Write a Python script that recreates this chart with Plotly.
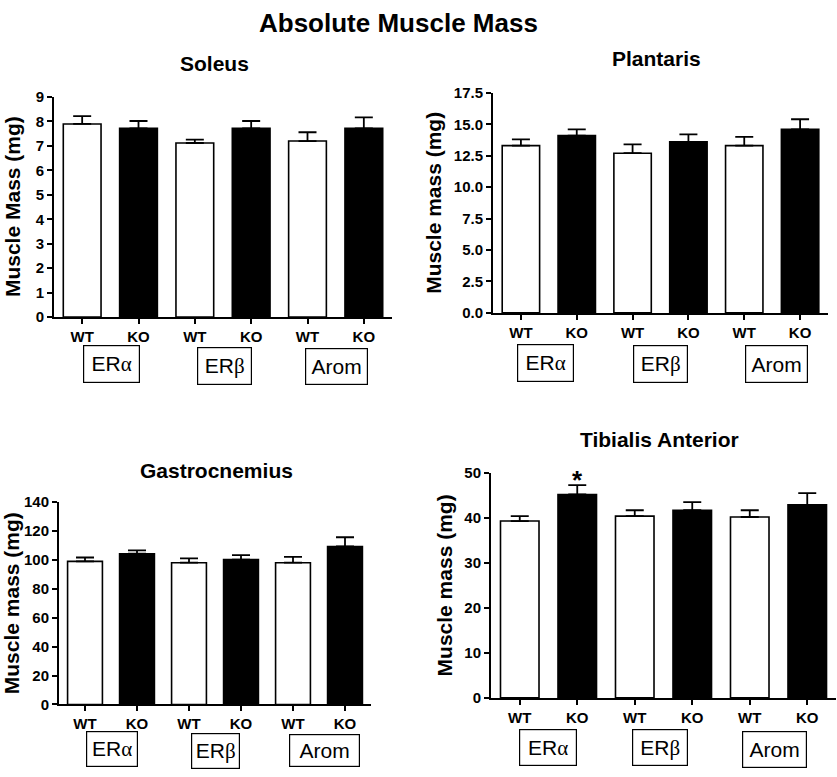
import plotly.graph_objects as go

W, H = 837, 777

categories = ["WT", "KO", "WT", "KO", "WT", "KO"]
groups = ["ER<span style='font-family:Liberation Serif'>α</span>",
          "ER<span style='font-family:Liberation Serif'>β</span>",
          "Arom"]
bar_colors = ["white", "black", "white", "black", "white", "black"]

soleus_vals = [7.9, 7.72, 7.12, 7.72, 7.2, 7.72]
soleus_err = [0.32, 0.3, 0.14, 0.3, 0.36, 0.45]
plantaris_vals = [13.3, 14.1, 12.7, 13.6, 13.3, 14.6]
plantaris_err = [0.5, 0.5, 0.7, 0.6, 0.7, 0.8]
gastro_vals = [98.9, 104.2, 98.0, 100.2, 98.0, 109.2]
gastro_err = [2.7, 2.3, 3.0, 3.0, 4.0, 6.4]
tibialis_vals = [39.3, 45.2, 40.4, 41.7, 40.2, 42.9]
tibialis_err = [1.1, 2.1, 1.3, 1.8, 1.5, 2.6]

FONT = "Liberation Sans, Arial, Helvetica, sans-serif"

panels = [
    dict(name="Soleus", vals=soleus_vals, err=soleus_err, px=(54, 392, 315, 90),
         yrange=[0, 9], dtick=1, fmt="d", ytitle="Muscle Mass (mg)", ytx=12,
         title_xy=(214, 56), box_y=(363, 365, 365.5), box_wh=((57, 38), (55, 38), (63, 37)),
         box_x=(111.5, 224.5, 336.5)),
    dict(name="Plantaris", vals=plantaris_vals, err=plantaris_err, px=(493, 828, 310.7, 85.7),
         yrange=[0, 17.5], dtick=2.5, fmt=".1f", ytitle="Muscle mass (mg)", ytx=434,
         title_xy=(656, 51), box_y=(362, 363, 363), box_wh=((57, 38), (55, 38), (63, 38)),
         box_x=(545.5, 660.5, 776.5)),
    dict(name="Gastrocnemius", vals=gastro_vals, err=gastro_err, px=(59, 371, 711, 504),
         yrange=[0, 140], dtick=20, fmt="d", ytitle="Muscle mass (mg)", ytx=11,
         title_xy=(216, 472), box_y=(757, 759, 758.5), box_wh=((52, 36), (49, 36), (71, 33)),
         box_x=(112, 215.5, 324.5)),
    dict(name="Tibialis Anterior", vals=tibialis_vals, err=tibialis_err, px=(491, 836, 704.3, 474.3),
         yrange=[0, 50], dtick=10, fmt="d", ytitle="Muscle mass (mg)", ytx=444,
         title_xy=(659, 440), box_y=(755.5, 755.5, 757), box_wh=((58, 37), (56, 37), (65, 37)),
         box_x=(548, 660, 774.5)),
]

fig = go.Figure()
annotations = []

def px2x(p):
    return p / W

def px2y(p):
    return 1 - p / H

for i, p in enumerate(panels, start=1):
    xa = "x" if i == 1 else f"x{i}"
    ya = "y" if i == 1 else f"y{i}"
    fig.add_trace(go.Bar(
        x=list(range(len(categories))), y=p["vals"],
        xaxis=xa, yaxis=ya, width=0.67,
        marker=dict(color=bar_colors, line=dict(color="black", width=1.6)),
        error_y=dict(type="data", symmetric=False, array=p["err"],
                     arrayminus=[0] * len(p["err"]), color="black",
                     thickness=1.8, width=9),
        showlegend=False, hoverinfo="skip",
    ))
    x0, x1, yb, yt = p["px"]
    axis_common = dict(showline=True, linewidth=2, linecolor="black", ticks="outside",
                       ticklen=5, tickwidth=2, tickcolor="black", showgrid=False,
                       zeroline=False, tickfont=dict(family=FONT, size=15, color="black", weight="bold"))
    fig.layout[f"xaxis{'' if i == 1 else i}"] = dict(
        domain=[px2x(x0), px2x(x1)], anchor=ya, range=[-0.5, 5.5],
        tickmode="array", tickvals=list(range(len(categories))), ticktext=categories,
        fixedrange=True, **axis_common)
    fig.layout[f"yaxis{'' if i == 1 else i}"] = dict(
        domain=[px2y(yb), px2y(yt)], anchor=xa, range=p["yrange"], dtick=p["dtick"],
        tick0=0, tickformat=p["fmt"], fixedrange=True, **axis_common)

    annotations.append(dict(text=p["name"], x=px2x(p["title_xy"][0]), y=px2y(p["title_xy"][1]),
                            xref="paper", yref="paper", showarrow=False,
                            xanchor="center", yanchor="middle",
                            font=dict(family=FONT, size=21, color="black", weight="bold")))
    annotations.append(dict(text=p["ytitle"], x=px2x(p["ytx"]), y=px2y((yb + yt) / 2),
                            xref="paper", yref="paper", showarrow=False, textangle=-90,
                            xanchor="center", yanchor="middle",
                            font=dict(family=FONT, size=21, color="black", weight="bold")))
    for g, gname in enumerate(groups):
        bw, bh = p["box_wh"][g]
        annotations.append(dict(text=gname, x=px2x(p["box_x"][g]), y=px2y(p["box_y"][g]),
                                xref="paper", yref="paper", showarrow=False,
                                xanchor="center", yanchor="middle",
                                width=bw - 2, height=bh - 2, borderpad=0,
                                bordercolor="black", borderwidth=1.2, bgcolor="white",
                                font=dict(family=FONT, size=21, color="black")))

annotations.append(dict(text="*", x=1, y=tibialis_vals[1] + tibialis_err[1], xref="x4", yref="y4",
                        showarrow=False, xanchor="center", yanchor="bottom", yshift=-12,
                        font=dict(family=FONT, size=26, color="black", weight="bold")))

annotations.append(dict(text="Absolute Muscle Mass", x=px2x(398), y=px2y(14), xref="paper", yref="paper",
                        showarrow=False, xanchor="center", yanchor="middle",
                        font=dict(family=FONT, size=26, color="black", weight="bold")))

fig.update_layout(width=W, height=H, margin=dict(l=0, r=0, t=0, b=0),
                  paper_bgcolor="white", plot_bgcolor="white",
                  annotations=annotations, bargap=0.33,
                  font=dict(family=FONT, color="black"))

fig.write_html("out.html", config={"displayModeBar": False},
               post_script="document.body.style.margin='0';document.body.style.overflow='hidden';")
